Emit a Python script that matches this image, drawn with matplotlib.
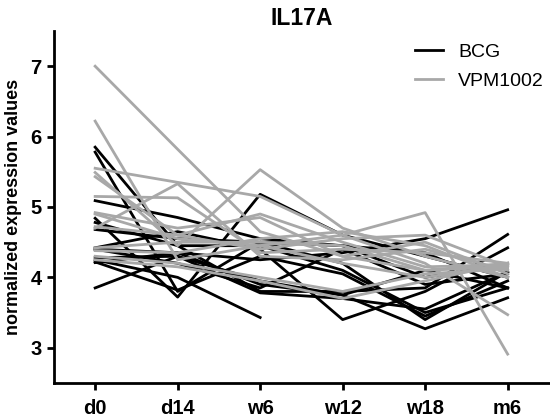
import numpy as np
import matplotlib
matplotlib.use("Agg")
import matplotlib.pyplot as plt

plt.rcParams['font.family'] = ['Liberation Sans', 'DejaVu Sans']

# time points
timepoints = ["d0", "d14", "w6", "w12", "w18", "m6"]
nan = np.nan

# BCG donors (black)
bcg = [
    [5.85, 4.45, 4.45, 4.10, 3.50, 3.85],
    [5.78, 3.80, 4.50, 4.20, 3.40, 4.08],
    [4.40, 4.35, 4.25, 4.35, 4.55, 4.96],
    [4.84, 3.72, 5.18, 4.60, 4.30, 4.00],
    [4.78, 4.45, 3.80, 3.80, 3.85, 4.61],
    [4.68, 4.55, 4.50, 4.45, 4.35, 3.85],
    [4.42, 4.65, 4.40, 3.40, 3.80, 4.42],
    [4.25, 4.00, 3.43, nan, nan, nan],
    [4.21, 4.35, 3.90, 3.75, 3.27, 3.71],
    [3.85, 4.30, 3.78, 3.70, 3.55, 4.08],
    [5.09, 4.85, 4.55, 4.45, 4.00, 4.20],
    [4.28, 4.30, 3.95, 3.75, 4.10, 3.85],
    [4.40, 4.20, 3.85, 4.40, 3.90, 4.05],
    [4.22, 3.82, 4.30, 4.05, 3.45, 3.95],
]

# VPM1002 donors (grey)
vpm = [
    [4.90, 4.55, 4.45, 4.60, 4.92, 2.91],
    [7.00, 5.82, 4.65, 4.30, 4.10, 4.15],
    [6.22, 4.25, 4.45, 4.20, 4.00, 4.18],
    [5.55, 5.35, 5.15, 4.60, 4.20, 3.47],
    [4.70, 5.33, 4.30, 4.25, 4.40, 4.10],
    [5.15, 5.13, 4.35, 4.40, 4.35, 4.20],
    [5.49, 4.45, 5.53, 4.70, 4.30, 4.00],
    [5.43, 4.60, 4.90, 4.50, 4.15, 4.18],
    [4.72, 4.60, 4.40, 4.55, 4.60, 4.15],
    [4.42, 4.50, 4.50, 4.45, 4.10, 4.20],
    [4.30, 4.20, 4.00, 3.80, 4.05, 4.12],
    [4.38, 4.35, 4.55, 4.65, 4.45, 4.00],
    [4.25, 4.15, 3.95, 3.70, 3.95, 4.20],
    [4.92, 4.70, 4.85, 4.30, 4.50, 4.05],
]

fig = plt.figure(figsize=(5.5, 4.19), dpi=100)
ax = fig.add_axes([0.098, 0.086, 0.9, 0.84])

x = np.arange(len(timepoints))
for i, row in enumerate(bcg):
    ax.plot(x, row, color="black", lw=2.0, label="BCG" if i == 0 else None)
for i, row in enumerate(vpm):
    ax.plot(x, row, color="#a8a8a8", lw=2.0, label="VPM1002" if i == 0 else None)

ax.set_xlim(-0.5, 5.5)
ax.set_ylim(2.5, 7.5)
ax.set_xticks(x)
ax.set_xticklabels(timepoints)
ax.set_yticks([3, 4, 5, 6, 7])

for s in ["top", "right"]:
    ax.spines[s].set_visible(False)
for s in ["left", "bottom"]:
    ax.spines[s].set_linewidth(2)
ax.tick_params(width=2, length=5, labelsize=14.5)
ax.tick_params(axis="x", pad=6.5)
ax.tick_params(axis="y", pad=4)
for lab in ax.get_xticklabels() + ax.get_yticklabels():
    lab.set_fontweight("bold")

ax.set_ylabel("normalized expression values", fontsize=13, fontweight="bold", labelpad=6)
ax.set_title("IL17A", fontsize=16.5, fontweight="bold", pad=4)

ax.legend(loc="upper left", bbox_to_anchor=(0.695, 1.015), frameon=False,
          fontsize=14, handlelength=1.4, labelspacing=0.6, handletextpad=0.8)

fig.savefig("out.png", dpi=100)
